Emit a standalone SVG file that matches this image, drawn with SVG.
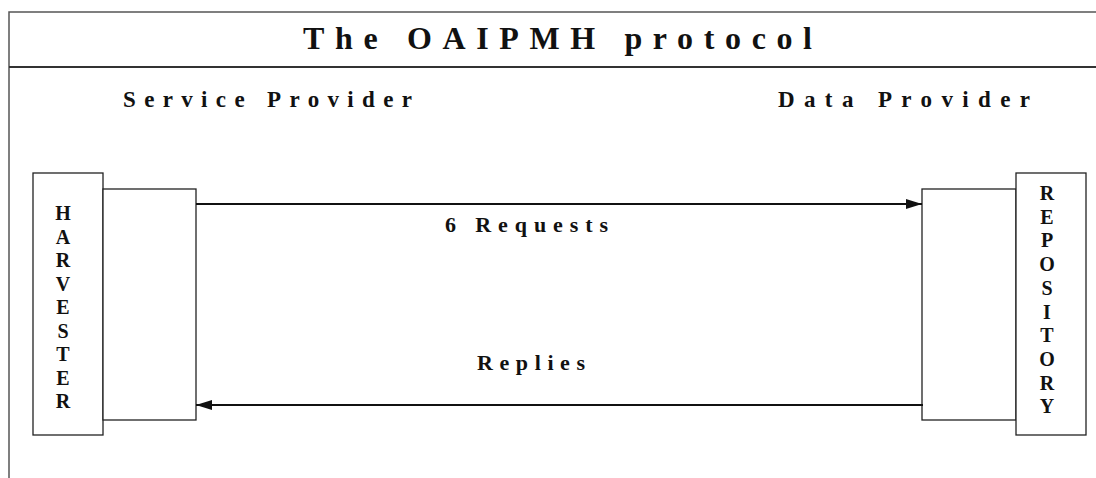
<svg xmlns="http://www.w3.org/2000/svg" width="1096" height="478" viewBox="0 0 1096 478">
<style>
.frame{stroke:#555;stroke-width:1.5;fill:none}
.box{fill:#fff;stroke:#222;stroke-width:1.3}
.t{font-family:"Liberation Serif","Times New Roman",serif;font-weight:bold;fill:#111}
.v{font-size:20px;text-anchor:middle}
.conn{stroke:#111;stroke-width:2.2;fill:none}
</style>
<defs>
<marker id="ah" markerWidth="16" markerHeight="10" refX="16" refY="5" orient="auto" markerUnits="userSpaceOnUse">
<path d="M0,0 L16,5 L0,10 z" fill="#111"/>
</marker>
</defs>
<rect width="1096" height="478" fill="#fff"/>
<g id="frame">
<path class="frame" d="M9,478 V12 H1096"/>
<line x1="9" y1="67" x2="1096" y2="67" stroke="#333" stroke-width="2"/>
<text class="t" x="303" y="49" font-size="32" textLength="509" lengthAdjust="spacing" xml:space="preserve">The OAIPMH protocol</text>
<text class="t" x="123" y="107" font-size="23" textLength="289" lengthAdjust="spacing" xml:space="preserve">Service Provider</text>
<text class="t" x="778" y="107" font-size="23" textLength="252" lengthAdjust="spacing" xml:space="preserve">Data Provider</text>
</g>
<g id="harvester">
<rect class="box" x="33" y="173" width="70" height="262"/>
<text class="t v"><tspan x="63" y="220">H</tspan><tspan x="63" y="243.5">A</tspan><tspan x="63" y="267">R</tspan><tspan x="63" y="290.5">V</tspan><tspan x="63" y="314">E</tspan><tspan x="63" y="337.5">S</tspan><tspan x="63" y="361">T</tspan><tspan x="63" y="384.5">E</tspan><tspan x="63" y="408">R</tspan></text>
</g>
<g id="service-box">
<rect class="box" x="103" y="189" width="93" height="231"/>
</g>
<g id="data-box">
<rect class="box" x="922" y="189" width="94" height="231"/>
</g>
<g id="repository">
<rect class="box" x="1016" y="173" width="70" height="262"/>
<text class="t v"><tspan x="1047" y="200">R</tspan><tspan x="1047" y="223.7">E</tspan><tspan x="1047" y="247.4">P</tspan><tspan x="1047" y="271.1">O</tspan><tspan x="1047" y="294.8">S</tspan><tspan x="1047" y="318.5">I</tspan><tspan x="1047" y="342.2">T</tspan><tspan x="1047" y="365.9">O</tspan><tspan x="1047" y="389.6">R</tspan><tspan x="1047" y="413.3">Y</tspan></text>
</g>
<g id="connectors">
<line class="conn" x1="196" y1="204" x2="922" y2="204" marker-end="url(#ah)"/>
<line class="conn" x1="923" y1="405" x2="196" y2="405" marker-end="url(#ah)"/>
<text class="t" x="445" y="232" font-size="22" textLength="163" lengthAdjust="spacing" xml:space="preserve">6 Requests</text>
<text class="t" x="477" y="370" font-size="22" textLength="108" lengthAdjust="spacing" xml:space="preserve">Replies</text>
</g>
</svg>
